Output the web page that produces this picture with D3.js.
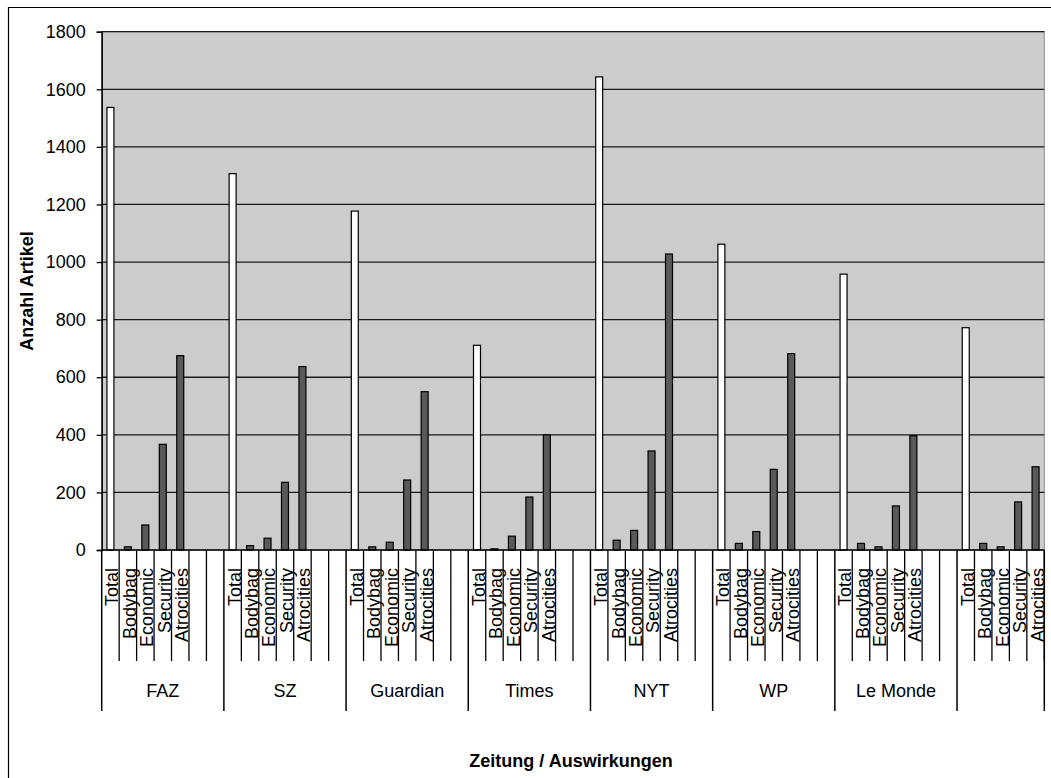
<!DOCTYPE html>
<html>
<head>
<meta charset="utf-8">
<script src="https://cdn.jsdelivr.net/npm/d3@7"></script>
<style>
  body { margin: 0; background: #fff; }
  text { font-family: "Liberation Sans", Arial, sans-serif; fill: #000; }
</style>
</head>
<body>
<div id="viz"></div>
<script>
// Zeitungen (letzte Gruppe ohne Namen, im Original abgeschnitten)
var zeitungen = ['FAZ', 'SZ', 'Guardian', 'Times', 'NYT', 'WP', 'Le Monde', ''];
var auswirkungen = ['Total', 'Bodybag', 'Economic', 'Security', 'Atrocities'];

var total      = [1537, 1307, 1177, 711, 1643, 1062, 958, 772];
var bodybag    = [11, 15, 11, 4, 34, 23, 23, 23];
var economic   = [87, 41, 27, 48, 68, 64, 11, 11];
var security   = [367, 235, 243, 184, 344, 280, 153, 167];
var atrocities = [675, 637, 550, 400, 1028, 682, 397, 289];

var yTicks = [0, 200, 400, 600, 800, 1000, 1200, 1400, 1600, 1800];

var series = [total, bodybag, economic, security, atrocities];

var width = 1051,
    height = 778,
    plotLeft = 101.7,
    plotRight = 1044.3,
    plotTop = 31.7,
    plotBottom = 550,
    slotsPerGroup = 7,
    visibleSlots = 54;

// every group has 7 slots: 5 bars + 2 empty
var keys = [];
zeitungen.forEach(function(z, g) {
  for (var s = 0; s < slotsPerGroup; s++) keys.push(g + '|' + s);
});

var xScale = d3.scaleBand()
  .domain(keys)
  .range([plotLeft, plotLeft + (plotRight - plotLeft) * keys.length / visibleSlots]);

var slotW = xScale.bandwidth();

var yScale = d3.scaleLinear()
  .domain([0, 1800])
  .range([plotBottom, plotTop]);

var bars = [];
zeitungen.forEach(function(z, g) {
  series.forEach(function(arr, s) {
    bars.push({ key: g + '|' + s, value: arr[g], total: s === 0 });
  });
});

var svg = d3.select('#viz').append('svg')
  .attr('width', width)
  .attr('height', height);

svg.append('defs').append('clipPath').attr('id', 'clip')
  .append('rect')
    .attr('x', 0).attr('y', 0)
    .attr('width', plotRight + 0.6).attr('height', height);

// outer frame (only top and left visible)
svg.append('path')
  .attr('d', 'M8.5,' + height + 'V7.5H' + width)
  .attr('fill', 'none')
  .attr('stroke', '#000')
  .attr('stroke-width', 1.2);

// plot area
svg.append('rect')
  .attr('x', plotLeft).attr('y', plotTop)
  .attr('width', plotRight - plotLeft).attr('height', plotBottom - plotTop)
  .attr('fill', '#cccccc')
  .attr('stroke', '#8c8c8c')
  .attr('stroke-width', 1);

svg.append('g').selectAll('line')
  .data(yTicks.filter(function(d) { return d > 0; }))
  .enter().append('line')
    .attr('x1', plotLeft).attr('x2', plotRight)
    .attr('y1', function(d) { return yScale(d); })
    .attr('y2', function(d) { return yScale(d); })
    .attr('stroke', '#1a1a1a')
    .attr('stroke-width', 1.3);

var barW = slotW * 0.4;

svg.append('g').attr('clip-path', 'url(#clip)')
  .selectAll('rect').data(bars)
  .enter().append('rect')
    .attr('x', function(d) { return xScale(d.key) + (slotW - barW) / 2; })
    .attr('y', function(d) { return yScale(d.value); })
    .attr('width', barW)
    .attr('height', function(d) { return plotBottom - yScale(d.value); })
    .style('fill', function(d) { return d.total ? '#ffffff' : '#595959'; })
    .attr('stroke', '#000')
    .attr('stroke-width', 1.2);

// y axis
var yAxis = svg.append('g')
  .attr('transform', 'translate(' + plotLeft + ',0)')
  .call(d3.axisLeft(yScale).tickValues(yTicks).tickFormat(d3.format('d'))
    .tickSize(5).tickPadding(11));
yAxis.select('.domain').attr('stroke', '#000').attr('stroke-width', 1.5);
yAxis.selectAll('.tick line').attr('stroke', '#000').attr('stroke-width', 1.3);
yAxis.selectAll('.tick text')
  .style('font-family', '"Liberation Sans", Arial, sans-serif')
  .style('font-size', '18px')
  .attr('fill', '#000');

// category axis
svg.append('line')
  .attr('x1', plotLeft).attr('x2', plotRight)
  .attr('y1', plotBottom).attr('y2', plotBottom)
  .attr('stroke', '#000').attr('stroke-width', 1.5);

var cat = svg.append('g').attr('clip-path', 'url(#clip)');

// slot separators
cat.selectAll('line.slot')
  .data(keys.filter(function(k) { return +k.split('|')[1] > 0; }))
  .enter().append('line')
    .attr('class', 'slot')
    .attr('x1', function(k) { return xScale(k); })
    .attr('x2', function(k) { return xScale(k); })
    .attr('y1', plotBottom).attr('y2', 661)
    .attr('stroke', '#000').attr('stroke-width', 1.3);

// group separators
var groupEdges = zeitungen.map(function(z, g) { return xScale(g + '|0'); });
groupEdges.push(plotRight);
svg.append('g').selectAll('line')
  .data(groupEdges)
  .enter().append('line')
    .attr('x1', function(d) { return d; })
    .attr('x2', function(d) { return d; })
    .attr('y1', plotBottom).attr('y2', 711)
    .attr('stroke', '#000').attr('stroke-width', 1.5);

cat.selectAll('text.sub')
  .data(bars)
  .enter().append('text')
    .attr('class', 'sub')
    .attr('transform', function(d) {
      return 'translate(' + (xScale(d.key) + slotW - 0.8) + ',568) rotate(-90)';
    })
    .attr('text-anchor', 'end')
    .style('font-size', '18px')
    .text(function(d) { return auswirkungen[+d.key.split('|')[1]]; });

svg.append('g').selectAll('text')
  .data(zeitungen)
  .enter().append('text')
    .attr('x', function(z, g) { return xScale(g + '|0') + slotW * slotsPerGroup / 2; })
    .attr('y', 697)
    .attr('text-anchor', 'middle')
    .style('font-size', '18px')
    .text(function(z) { return z; });

// axis titles
svg.append('text')
  .attr('transform', 'translate(33,291) rotate(-90)')
  .attr('text-anchor', 'middle')
  .style('font-size', '18px')
  .style('font-weight', 'bold')
  .text('Anzahl Artikel');

svg.append('text')
  .attr('x', 571)
  .attr('y', 767)
  .attr('text-anchor', 'middle')
  .style('font-size', '18px')
  .style('font-weight', 'bold')
  .text('Zeitung / Auswirkungen');
</script>
</body>
</html>
